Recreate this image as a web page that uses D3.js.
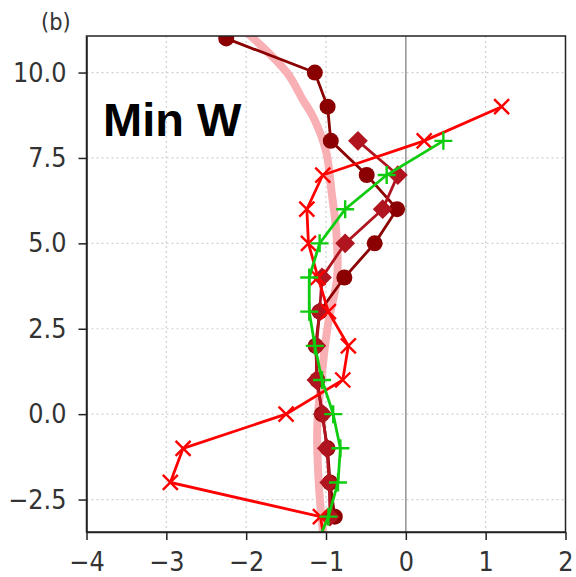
<!DOCTYPE html>
<html lang="en">
<head>
    <meta charset="UTF-8">
    <script src="https://d3js.org/d3.v7.min.js"></script>
    <title>Min W profiles</title>
    <style>
        body { margin: 0; background: #fff; font-family: "DejaVu Sans", sans-serif; }
        .grid line { stroke: #cfcfcf; stroke-width: 1.2; stroke-dasharray: 2,3; }
        .axis path, .axis line { stroke: #222; stroke-width: 1.5; }
        .axis text { font-family: "DejaVu Sans", sans-serif; font-size: 24px; fill: #333; }
    </style>
</head>
<body>
<div id="chart"></div>
<script>
    // vertical levels and profile values
    const circleY = [11, 10, 9, 8, 7, 6, 5, 4, 3, 2, 1, 0, -1, -2, -3];
    const circleX = [-2.25, -1.14, -0.98, -0.94, -0.49, -0.11, -0.39, -0.77, -1.08, -1.13, -1.11, -1.05, -0.98, -0.95, -0.89];

    const diamondY = [8, 7, 6, 5, 4, 3, 2, 1, 0, -1, -2, -3];
    const diamondX = [-0.6, -0.1, -0.29, -0.76, -1.05, -1.08, -1.12, -1.12, -1.04, -0.99, -0.96, -0.95];

    const crossY = [9, 8, 7, 6, 5, 4, 3, 2, 1, 0, -1, -2, -3, -4];
    const crossX = [1.2, 0.23, -1.04, -1.24, -1.22, -1.1, -0.97, -0.72, -0.79, -1.5, -2.79, -2.95, -1.07, -1.0];

    const plusY = [8, 7, 6, 5, 4, 3, 2, 1, 0, -1, -2, -3, -4];
    const plusX = [0.47, -0.24, -0.76, -1.08, -1.21, -1.21, -1.14, -1.05, -0.91, -0.82, -0.85, -0.97, -1.15];

    const bandY = [11.3, 10, 9.2, 8.7, 7.7, 6.5, 5.3, 4, 2.7, 1, -0.45, -2.4, -3.6];
    const bandX = [-2.05, -1.49, -1.29, -1.16, -1.0, -0.93, -0.87, -0.86, -0.97, -1.06, -1.11, -1.08, -1.03];

    const xTicks = [-4, -3, -2, -1, 0, 1, 2];
    const yTicks = [-2.5, 0, 2.5, 5, 7.5, 10];

    const W = 576, H = 577;
    const m = { left: 86.5, right: 565.5, top: 36, bottom: 532 };
    const stretch = 1.12; // tick labels look vertically stretched

    const svg = d3.select("#chart").append("svg")
        .attr("width", W).attr("height", H);

    const x = d3.scaleLinear().domain([-4, 2]).range([m.left, m.right]);
    const y = d3.scaleLinear().domain([-3.45, 11.07]).range([m.bottom, m.top]);

    svg.append("clipPath").attr("id", "plot")
        .append("rect")
        .attr("x", m.left).attr("y", m.top)
        .attr("width", m.right - m.left).attr("height", m.bottom - m.top);

    // dotted grid
    const grid = svg.append("g").attr("class", "grid");
    grid.selectAll(".gx").data(xTicks.filter(d => d > -4 && d < 2 && d !== 0)).join("line")
        .attr("x1", d => x(d)).attr("x2", d => x(d))
        .attr("y1", m.top).attr("y2", m.bottom);
    grid.selectAll(".gy").data(yTicks).join("line")
        .attr("x1", m.left).attr("x2", m.right)
        .attr("y1", d => y(d)).attr("y2", d => y(d));

    // zero line
    svg.append("line")
        .attr("x1", x(0)).attr("x2", x(0))
        .attr("y1", m.top).attr("y2", m.bottom)
        .attr("stroke", "#999").attr("stroke-width", 1.6);

    const plot = svg.append("g").attr("clip-path", "url(#plot)");

    const zip = (xs, ys) => xs.map((v, i) => [v, ys[i]]);
    const line = d3.line().x(d => x(d[0])).y(d => y(d[1]));
    const curve = d3.line().x(d => x(d[0])).y(d => y(d[1])).curve(d3.curveCatmullRom);

    // thick pink reference curve
    plot.append("path")
        .datum(zip(bandX, bandY))
        .attr("d", curve)
        .attr("fill", "none")
        .attr("stroke", "#f8b0b4")
        .attr("stroke-width", 8)
        .attr("stroke-linecap", "round");

    function drawLine(pts, color) {
        plot.append("path").datum(pts)
            .attr("d", line)
            .attr("fill", "none")
            .attr("stroke", color)
            .attr("stroke-width", 2.8);
    }

    // maroon circles
    const circles = zip(circleX, circleY);
    drawLine(circles, "#8b0000");
    plot.append("g").selectAll("circle").data(circles).join("circle")
        .attr("cx", d => x(d[0])).attr("cy", d => y(d[1]))
        .attr("r", 8).attr("fill", "#8b0000");

    // diamonds
    const diamonds = zip(diamondX, diamondY);
    drawLine(diamonds, "#b0141f");
    plot.append("g").selectAll("rect").data(diamonds).join("rect")
        .attr("x", -7).attr("y", -7)
        .attr("width", 14).attr("height", 14)
        .attr("transform", d => `translate(${x(d[0])},${y(d[1])}) rotate(45)`)
        .attr("fill", "#b0141f");

    // red crosses
    const crosses = zip(crossX, crossY);
    drawLine(crosses, "#ff0000");
    plot.append("g").selectAll("path").data(crosses).join("path")
        .attr("transform", d => `translate(${x(d[0])},${y(d[1])})`)
        .attr("d", "M-7.5,-7.5L7.5,7.5M-7.5,7.5L7.5,-7.5")
        .attr("stroke", "#ff0000").attr("stroke-width", 2.4).attr("fill", "none");

    // green pluses
    const pluses = zip(plusX, plusY);
    drawLine(pluses, "#10cc10");
    plot.append("g").selectAll("path").data(pluses).join("path")
        .attr("transform", d => `translate(${x(d[0])},${y(d[1])})`)
        .attr("d", "M-9,0L9,0M0,-9L0,9")
        .attr("stroke", "#10cc10").attr("stroke-width", 2.4).attr("fill", "none");

    // axes
    const fmtX = d => d3.format("d")(d).replace("-", "\u2212");
    const fmtY = d => d3.format(".1f")(d).replace("-", "\u2212");

    const gx = svg.append("g").attr("class", "axis")
        .attr("transform", `translate(0,${m.bottom})`)
        .call(d3.axisBottom(x).tickValues(xTicks).tickFormat(fmtX).tickSize(8).tickSizeOuter(0));
    gx.selectAll("text")
        .attr("dy", 0).attr("y", 39 / stretch)
        .attr("transform", `scale(1,${stretch})`);

    const gy = svg.append("g").attr("class", "axis")
        .attr("transform", `translate(${m.left},0)`)
        .call(d3.axisLeft(y).tickValues(yTicks).tickFormat(fmtY).tickSize(8).tickPadding(12).tickSizeOuter(0));
    gy.selectAll("text")
        .attr("transform", `scale(1,${stretch})`);

    // frame
    svg.append("rect")
        .attr("x", m.left).attr("y", m.top)
        .attr("width", m.right - m.left).attr("height", m.bottom - m.top)
        .attr("fill", "none").attr("stroke", "#222").attr("stroke-width", 1.5);

    svg.append("text")
        .attr("x", 41).attr("y", 30 / stretch)
        .attr("transform", `scale(1,${stretch})`)
        .attr("font-family", "DejaVu Sans").attr("font-size", 21)
        .attr("fill", "#333")
        .text("(b)");

    svg.append("text")
        .attr("x", 103).attr("y", 136)
        .attr("font-family", "Liberation Sans, Arial, sans-serif")
        .attr("font-weight", "bold").attr("font-size", 47)
        .attr("fill", "#000")
        .text("Min W");
</script>
</body>
</html>
